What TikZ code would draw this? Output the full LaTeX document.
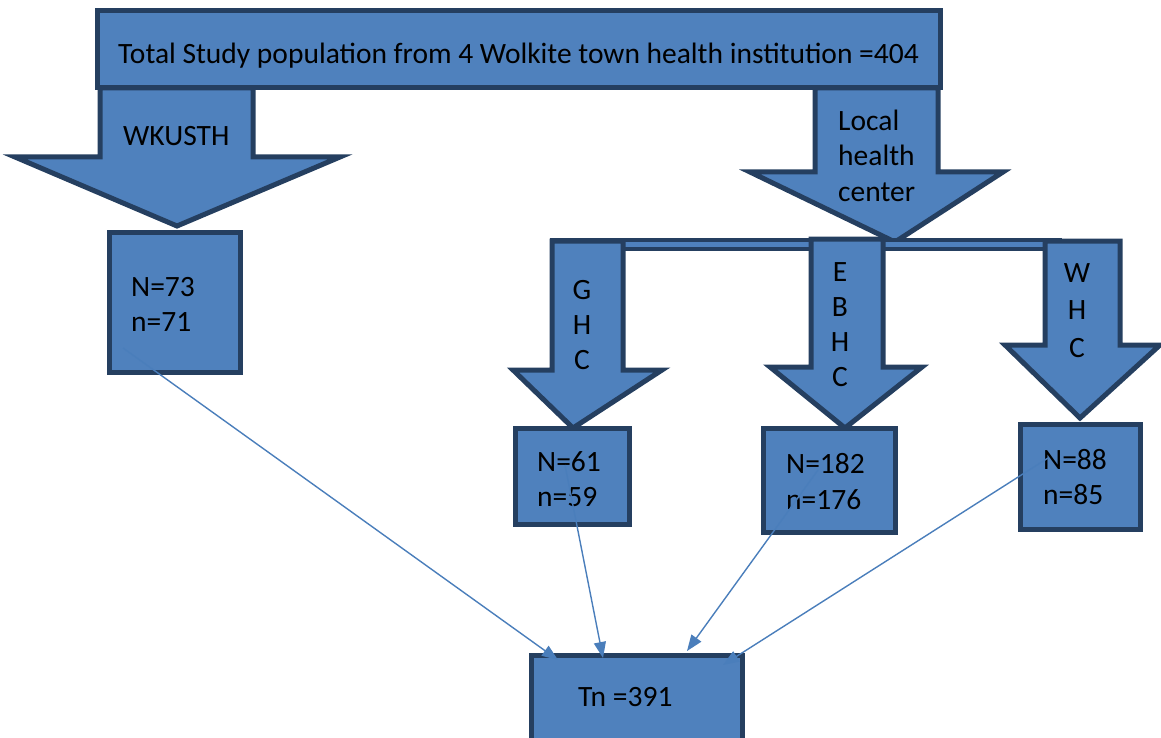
\documentclass[tikz,border=0pt]{standalone}
\usepackage{fontspec}
\setmainfont{Carlito}
\usetikzlibrary{arrows.meta}
\definecolor{fillb}{HTML}{4F81BD}
\definecolor{edgeb}{HTML}{253F60}
\definecolor{linkb}{HTML}{4A7EBB}
\tikzset{
  blockshape/.style={fill=fillb, draw=edgeb, line width=5pt, line join=miter},
  boxnode/.style={rectangle, fill=fillb, draw=edgeb, line width=5pt, inner sep=0pt},
  lbl/.style={font=\fontsize{29.5}{35}\selectfont, inner sep=0pt, anchor=base west, text=black},
  letter/.style={font=\fontsize{29.5}{35}\selectfont, inner sep=0pt, anchor=base, text=black},
  link/.style={draw=linkb, line width=1.4pt, -{Triangle[length=16pt,width=12pt]}}
}
\begin{document}
\begin{tikzpicture}[x=1pt,y=-1pt]
\useasboundingbox (0,0) rectangle (1161,738);

% block arrows
\path[blockshape] (100,88) -- (253,88) -- (253,157) -- (340,157) -- (177,226) -- (15,157) -- (100,157) -- cycle;
\path[blockshape] (815,88) -- (938,88) -- (938,172) -- (1003,172) -- (895,242) -- (750,172) -- (815,172) -- cycle;
\path[blockshape, line width=4pt] (552,240) rectangle (1060,249);
\path[blockshape] (552,241) -- (623,241) -- (623,370) -- (662,370) -- (573,428) -- (513,370) -- (552,370) -- cycle;
\path[blockshape] (811,239) -- (883,239) -- (883,367) -- (922,367) -- (845,428) -- (770,367) -- (811,367) -- cycle;
\path[blockshape] (1045,241) -- (1120,241) -- (1120,345) -- (1160,345) -- (1080,418) -- (1005,345) -- (1045,345) -- cycle;

% boxes
\node[boxnode, minimum width=843pt, minimum height=77pt] (top) at (519,49) {};
\node[boxnode, minimum width=131pt, minimum height=140pt] (wk) at (175,302.5) {};
\node[boxnode, minimum width=114pt, minimum height=96pt] (ghc) at (572.5,476.5) {};
\node[boxnode, minimum width=132pt, minimum height=104pt] (ebhc) at (829.5,480.5) {};
\node[boxnode, minimum width=120pt, minimum height=105pt] (whc) at (1080.5,477) {};
\node[boxnode, minimum width=211pt, minimum height=87pt] (tn) at (637,699) {};

% texts
\node[lbl] (toptxt) at (118,64) {Total Study population from 4 Wolkite town health institution =404};
\node[lbl] (wklbl) at (123,146) {WKUSTH};
\node[lbl] (loc1) at (838,131) {Local};
\node[lbl] (loc2) at (838,166) {health};
\node[lbl] (loc3) at (838,201) {center};
\node[letter] (g1) at (582,299) {G};
\node[letter] (g2) at (582,334) {H};
\node[letter] (g3) at (582,369) {C};
\node[letter] (e1) at (840,281) {E};
\node[letter] (e2) at (840,316) {B};
\node[letter] (e3) at (840,351) {H};
\node[letter] (e4) at (840,386) {C};
\node[letter] (w1) at (1077,282) {W};
\node[letter] (w2) at (1077,319) {H};
\node[letter] (w3) at (1077,357) {C};
\node[lbl] (wkN) at (131,296) {N=73};
\node[lbl] (wkn) at (131,331) {n=71};
\node[lbl] (gN) at (537,471) {N=61};
\node[lbl] (gn) at (537,506) {n=59};
\node[lbl] (eN) at (786,473) {N=182};
\node[lbl] (en) at (786,509) {n=176};
\node[lbl] (wN) at (1043,469) {N=88};
\node[lbl] (wn) at (1043,504) {n=85};
\node[lbl] (tntxt) at (578,706) {Tn =391};

% connectors
\coordinate (s1) at (123,348);
\coordinate (t1) at (558,660);
\coordinate (s2) at (565,465);
\coordinate (t2) at (603,658);
\coordinate (s3) at (818,470);
\coordinate (t3) at (687,651);
\coordinate (s4) at (1048,458);
\coordinate (t4) at (723,665);
\draw[link] (s1) -- (t1);
\draw[link] (s2) -- (t2);
\draw[link] (s3) -- (t3);
\draw[link] (s4) -- (t4);
\end{tikzpicture}
\end{document}
